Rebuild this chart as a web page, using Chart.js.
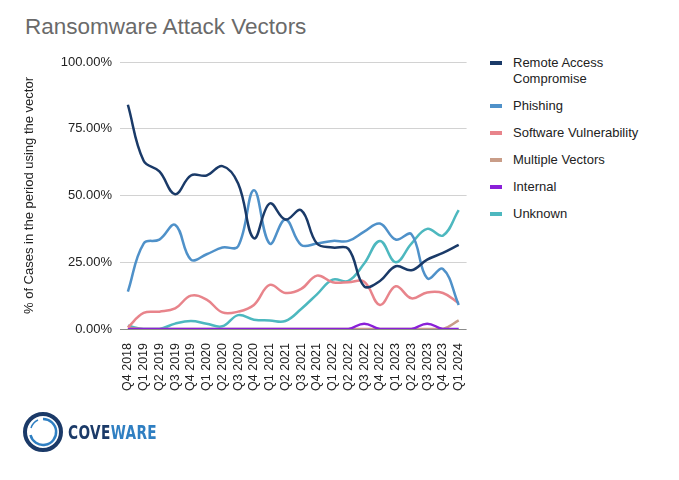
<!DOCTYPE html>
<html>
<head>
<meta charset="utf-8">
<script src="https://cdn.jsdelivr.net/npm/chart.js@4"></script>
<style>
  body { margin: 0; background: #fff; font-family: "Liberation Sans", Arial, sans-serif; }
  #page { position: relative; width: 679px; height: 480px; overflow: hidden; }
  #title { position: absolute; left: 25px; top: 13px; font-size: 22.5px; color: #6a6a6a; line-height: 1.2; }
  #chart-box { position: absolute; left: 0; top: 0; width: 480px; height: 480px; }
  #legend { position: absolute; left: 490px; top: 55px; font-size: 13px; color: #222; }
  .item { display: flex; align-items: flex-start; margin-bottom: 11px; line-height: 16px; }
  .swatch { width: 12px; height: 4px; margin-top: 6px; margin-right: 11px; flex: none; }
  #logo { position: absolute; left: 22px; top: 411px; display: flex; align-items: center; }
  #logo .word { font-family: "DejaVu Sans Condensed", "DejaVu Sans", sans-serif; font-weight: bold; font-size: 20px;
    transform: scaleX(0.76); transform-origin: left center; margin-left: 4px; letter-spacing: 0.5px; }
</style>
</head>
<body>
<div id="page">
  <div id="title">Ransomware Attack Vectors</div>
  <div id="chart-box"><canvas id="vector-chart"></canvas></div>
  <div id="legend"></div>
  <div id="logo">
    <svg width="42" height="42" viewBox="0 0 42 42">
      <circle cx="21" cy="21" r="18" fill="none" stroke="#1b3a68" stroke-width="4"/>
      <path d="M21 8 A13 13 0 1 1 8.5 24" fill="none" stroke="#2f7fc2" stroke-width="2.5"/>
      <path d="M9 17 A13 13 0 0 1 16 9" fill="none" stroke="#2f7fc2" stroke-width="1.5"/>
    </svg>
    <span class="word"><span style="color:#1b3a68">COVE</span><span style="color:#2f7fc2">WARE</span></span>
  </div>
</div>
<script>
// Quarter labels
const quarters = [
    "Q4 2018", "Q1 2019", "Q2 2019", "Q3 2019", "Q4 2019", "Q1 2020", "Q2 2020", "Q3 2020",
    "Q4 2020", "Q1 2021", "Q2 2021", "Q3 2021", "Q4 2021", "Q1 2022", "Q2 2022", "Q3 2022",
    "Q4 2022", "Q1 2023", "Q2 2023", "Q3 2023", "Q4 2023", "Q1 2024"
];

// % of cases per vector
const remoteAccess = [84, 63, 59, 50.5, 57.5, 57.5, 61, 54.5, 34, 47, 41, 44.5, 32, 30.5, 30, 16, 18, 23.5, 22, 26, 28.5, 31.5];
const phishing = [14, 32, 33.5, 39, 26, 28, 30.5, 31, 52, 32, 41, 31.5, 32, 33, 33, 36.5, 39.5, 33.5, 35.5, 19, 22.5, 9];
const softwareVuln = [0.6, 6, 6.5, 7.7, 12.5, 11, 6.2, 6.5, 9, 16.5, 13.5, 15, 20, 17.5, 17.5, 17.7, 9, 16, 11.5, 13.7, 13.5, 9.7];
const multipleVectors = [0.5, 0, 0, 0, 0, 0, 0, 0, 0, 0, 0, 0, 0, 0, 0, 0, 0, 0, 0, 0, 0, 3.2];
const internal = [0, 0, 0, 0, 0, 0, 0, 0, 0, 0, 0, 0, 0, 0, 0, 2, 0, 0, 0, 2, 0, 0];
const unknown = [1.2, 0, 0, 2, 3, 2, 1, 5.2, 3.5, 3.2, 3, 7.5, 13, 18.5, 18, 24.5, 33, 25, 32, 37.5, 35, 44.5];

const seriesNames = ["Remote Access\nCompromise", "Phishing", "Software Vulnerability", "Multiple Vectors", "Internal", "Unknown"];
const seriesColors = ["#1a3a68", "#4f91c9", "#e8848b", "#c99d88", "#8a20d8", "#4db8bf"];
const seriesData = [remoteAccess, phishing, softwareVuln, multipleVectors, internal, unknown];
// draw order (lower = on top), keeps the purple zero line visible
const drawOrder = [0, 1, 2, 4, 3, 5];

const ctx = document.getElementById("vector-chart").getContext("2d");

const vectorChart = new Chart(ctx, {
    type: "line",
    data: {
        labels: quarters,
        datasets: seriesData.map((values, i) => ({
            label: seriesNames[i],
            data: values,
            order: drawOrder[i],
            borderColor: seriesColors[i],
            backgroundColor: seriesColors[i],
            borderWidth: 2.5,
            pointRadius: 0,
            tension: 0.4,
            fill: false,
        })),
    },
    options: {
        responsive: true,
        maintainAspectRatio: false,
        animation: false,
        layout: { padding: { left: 22, top: 62, right: 13, bottom: 0 } },
        plugins: { legend: { display: false }, tooltip: { enabled: false } },
        scales: {
            x: {
                offset: true,
                grid: { display: false },
                border: { display: false },
                ticks: {
                    minRotation: 90, maxRotation: 90, autoSkip: false, padding: 6,
                    color: "#222", font: { size: 12.5, family: "Liberation Sans" },
                },
                afterFit: (scale) => { scale.height = 151; },
            },
            y: {
                min: 0, max: 100,
                border: { display: false },
                grid: {
                    drawTicks: false,
                    color: (c) => (c.tick && c.tick.value === 0 ? "#8a8a8a" : "#d2d2d2"),
                },
                ticks: {
                    stepSize: 25, padding: 8, color: "#222",
                    font: { size: 13, family: "Liberation Sans" },
                    callback: (v) => v.toFixed(2) + "%",
                },
                title: {
                    display: true, text: "% of Cases in the period using the vector",
                    color: "#222", font: { size: 13, family: "Liberation Sans" }, padding: 0,
                },
                afterFit: (scale) => { scale.width = 98; },
            },
        },
    },
});

// HTML legend built from the datasets (array order, not draw order)
const legendEl = document.getElementById("legend");
vectorChart.data.datasets.forEach((ds) => {
    const item = document.createElement("div");
    item.className = "item";
    const sw = document.createElement("span");
    sw.className = "swatch";
    sw.style.background = ds.borderColor;
    const txt = document.createElement("span");
    txt.innerHTML = ds.label.replace("\n", "<br>");
    item.appendChild(sw);
    item.appendChild(txt);
    legendEl.appendChild(item);
});
</script>
</body>
</html>
